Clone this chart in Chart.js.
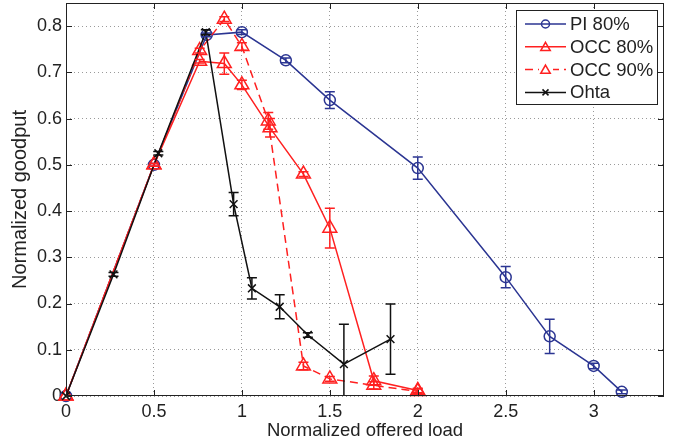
<!DOCTYPE html>
<html>
<head>
<meta charset="utf-8">
<style>
html,body{margin:0;padding:0;background:#fff;}
#wrap{width:678px;height:445px;}
</style>
<script src="https://cdn.jsdelivr.net/npm/chart.js@4.4.0/dist/chart.umd.min.js"></script>
</head>
<body>
<div id="wrap"><canvas id="c"></canvas></div>
<script>
// tick values
var xTicks = [0, 0.5, 1, 1.5, 2, 2.5, 3];
var yTicks = [0, 0.1, 0.2, 0.3, 0.4, 0.5, 0.6, 0.7, 0.8];

// PI 80%
var piX   = [0, 0.5, 0.8, 1.0, 1.25, 1.5, 2.0, 2.5, 2.75, 3.0, 3.16];
var piY   = [0, 0.5, 0.781, 0.787, 0.726, 0.64, 0.493, 0.257, 0.129, 0.065, 0.009];
var piErr = [0, 0.003, 0.004, 0.005, 0.005, 0.018, 0.024, 0.023, 0.037, 0.006, 0.004];

// OCC 80%
var occ80X   = [0, 0.5, 0.76, 0.9, 1.0, 1.16, 1.35, 1.5, 1.75, 2.0];
var occ80Y   = [0, 0.5, 0.724, 0.719, 0.673, 0.58, 0.48, 0.363, 0.033, 0.012];
var occ80Err = [0, 0.003, 0.004, 0.023, 0.01, 0.02, 0.005, 0.043, 0.01, 0.005];

// OCC 90%
var occ90X   = [0, 0.5, 0.76, 0.9, 1.0, 1.15, 1.35, 1.5, 1.75, 2.0];
var occ90Y   = [0, 0.5, 0.747, 0.815, 0.756, 0.595, 0.065, 0.037, 0.023, 0.01];
var occ90Err = [0, 0.003, 0.005, 0.005, 0.008, 0.018, 0.008, 0.005, 0.008, 0.005];

// Ohta
var ohtaX   = [0, 0.27, 0.525, 0.795, 0.953, 1.057, 1.215, 1.375, 1.58, 1.845];
var ohtaY   = [0, 0.263, 0.525, 0.787, 0.415, 0.233, 0.193, 0.132, 0.069, 0.123];
var ohtaErr = [0, 0.004, 0.004, 0.005, 0.025, 0.023, 0.026, 0.005, 0.086, 0.076];

var BLUE = '#2b3592', RED = '#ff2020', BLACK = '#111';
var FAMILY = "'Liberation Sans', Arial, sans-serif";
var FONT = {family: FAMILY, size: 18};

function pts(xs, ys){
	var out = [];
	for(var i = 0;i<xs.length;i++){
		out.push({x: xs[i], y: ys[i]});
	}
	return out;
}

function marker(ctx, style, x, y, r){
	ctx.beginPath();
	if(style == 'circle'){
		ctx.arc(x, y, r, 0, Math.PI*2);
	}else if(style == 'triangle'){
		var a = 0;
		ctx.moveTo(x + Math.sin(a)*r, y - Math.cos(a)*r);
		a += Math.PI*2/3;
		ctx.lineTo(x + Math.sin(a)*r, y - Math.cos(a)*r);
		a += Math.PI*2/3;
		ctx.lineTo(x + Math.sin(a)*r, y - Math.cos(a)*r);
		ctx.closePath();
	}else{
		ctx.moveTo(x - r, y - r); ctx.lineTo(x + r, y + r);
		ctx.moveTo(x - r, y + r); ctx.lineTo(x + r, y - r);
	}
	ctx.stroke();
}

var errs = [piErr, occ80Err, occ90Err, ohtaErr];
var legendStyle = ['circle', 'triangle', 'triangle', 'cross'];

var matlabBox = {
	id: 'matlabBox',
	afterLayout: function(chart){
		// pin the plot top (layout keeps adding its own padding)
		var a = chart.chartArea, ys = chart.scales.y;
		a.top = 3; a.height = a.bottom - a.top;
		ys.top = 3; ys.height = ys.bottom - ys.top;
		ys.configure();
	},
	afterDatasetsDraw: function(chart){
		var ctx = chart.ctx, a = chart.chartArea;
		var xs = chart.scales.x, ys = chart.scales.y;
		ctx.save();
		ctx.beginPath();
		ctx.rect(a.left, a.top, a.right - a.left, a.bottom - a.top);
		ctx.clip();
		chart.data.datasets.forEach(function(ds, i){
			ctx.strokeStyle = ds.borderColor;
			ctx.lineWidth = 1.5;
			ctx.setLineDash([]);
			ds.data.forEach(function(p, j){
				var e = errs[i][j];
				if(!e) return;
				var px = xs.getPixelForValue(p.x);
				var y1 = ys.getPixelForValue(p.y - e);
				var y2 = ys.getPixelForValue(p.y + e);
				ctx.beginPath();
				ctx.moveTo(px, y1); ctx.lineTo(px, y2);
				ctx.moveTo(px - 5, y1); ctx.lineTo(px + 5, y1);
				ctx.moveTo(px - 5, y2); ctx.lineTo(px + 5, y2);
				ctx.stroke();
			});
		});
		ctx.restore();
	},
	afterDraw: function(chart){
		var ctx = chart.ctx, a = chart.chartArea;
		var xs = chart.scales.x, ys = chart.scales.y;
		ctx.save();
		// frame
		ctx.strokeStyle = '#222';
		ctx.lineWidth = 1;
		ctx.setLineDash([]);
		ctx.strokeRect(a.left + 0.5, a.top + 0.5, a.right - a.left - 1, a.bottom - a.top - 1);
		// inward ticks
		ctx.beginPath();
		xTicks.forEach(function(v){
			var px = Math.round(xs.getPixelForValue(v)) + 0.5;
			ctx.moveTo(px, a.bottom); ctx.lineTo(px, a.bottom - 6);
			ctx.moveTo(px, a.top); ctx.lineTo(px, a.top + 6);
		});
		yTicks.forEach(function(v){
			var py = Math.round(ys.getPixelForValue(v)) + 0.5;
			ctx.moveTo(a.left, py); ctx.lineTo(a.left + 6, py);
			ctx.moveTo(a.right, py); ctx.lineTo(a.right - 6, py);
		});
		ctx.stroke();

		// legend
		var lw = 141, lh = 94;
		var lx = a.right - 7 - lw, ly = a.top + 7;
		ctx.fillStyle = '#fff';
		ctx.fillRect(lx, ly, lw, lh);
		ctx.strokeStyle = '#222';
		ctx.strokeRect(lx + 0.5, ly + 0.5, lw, lh);
		ctx.font = '18.5px ' + FAMILY;
		ctx.textBaseline = 'middle';
		ctx.textAlign = 'left';
		chart.data.datasets.forEach(function(ds, i){
			var cy = ly + 14 + i*22.8;
			ctx.strokeStyle = ds.borderColor;
			ctx.lineWidth = 1.5;
			ctx.setLineDash(ds.borderDash || []);
			ctx.beginPath();
			ctx.moveTo(lx + 9, cy); ctx.lineTo(lx + 50, cy);
			ctx.stroke();
			ctx.setLineDash([]);
			if(ds.borderDash){
				ctx.fillStyle = '#fff';
				ctx.fillRect(lx + 23, cy - 3, 14, 6);
			}
			var r = legendStyle[i] == 'circle' ? 4 : (legendStyle[i] == 'triangle' ? 5.5 : 3);
			marker(ctx, legendStyle[i], lx + 29.5, cy + (legendStyle[i] == 'triangle' ? 1 : 0), r);
			ctx.fillStyle = '#222';
			ctx.fillText(ds.label, lx + 54, cy + 1);
		});
		ctx.restore();
	}
};

var ctx = document.getElementById("c").getContext("2d");
var config = {
	type: 'line',
	data: {
		datasets: [{
			label: 'PI 80%',
			data: pts(piX, piY),
			borderColor: BLUE,
			borderWidth: 1.5,
			pointStyle: 'circle',
			pointRadius: 5.5,
			pointBorderWidth: 1.5,
			pointBackgroundColor: 'rgba(0,0,0,0)',
			order: 3
		},{
			label: 'OCC 80%',
			data: pts(occ80X, occ80Y),
			borderColor: RED,
			borderWidth: 1.5,
			pointStyle: 'triangle',
			pointRadius: 8,
			pointBorderWidth: 1.5,
			pointBackgroundColor: 'rgba(0,0,0,0)',
			order: 2
		},{
			label: 'OCC 90%',
			data: pts(occ90X, occ90Y),
			borderColor: RED,
			borderWidth: 1.5,
			borderDash: [8, 5],
			pointStyle: 'triangle',
			pointRadius: 8,
			pointBorderWidth: 1.5,
			pointBackgroundColor: 'rgba(0,0,0,0)',
			order: 1
		},{
			label: 'Ohta',
			data: pts(ohtaX, ohtaY),
			borderColor: BLACK,
			borderWidth: 1.5,
			pointStyle: 'crossRot',
			pointRadius: 5.5,
			pointBorderWidth: 1.5,
			order: 0
		}]
	},
	options: {
		responsive: true,
		maintainAspectRatio: false,
		animation: false,
		layout: {padding: {top: 3, right: 14, left: 0, bottom: 0}},
		elements: {line: {tension: 0, fill: false}},
		datasets: {line: {clip: false}},
		plugins: {legend: {display: false}, tooltip: {enabled: false}},
		scales: {
			x: {
				type: 'linear',
				min: 0,
				max: 3.4,
				afterBuildTicks: function(s){ s.ticks = xTicks.map(function(v){ return {value: v}; }); },
				afterFit: function(s){ s.height = 49; s.paddingLeft = 0; s.paddingRight = 0; },
				ticks: {callback: function(v){ return String(v); }, padding: 5, maxRotation: 0, autoSkip: false, color: '#222', font: FONT},
				grid: {color: '#9a9a9a', drawTicks: false, lineWidth: 1},
				border: {display: false, dash: [1, 3]},
				title: {display: true, text: 'Normalized offered load', color: '#222', font: {family: FAMILY, size: 18.5}, padding: {top: 0, bottom: 3}}
			},
			y: {
				type: 'linear',
				min: 0,
				max: 0.85,
				afterBuildTicks: function(s){ s.ticks = yTicks.map(function(v){ return {value: v}; }); },
				afterFit: function(s){ s.width = 66; s.paddingTop = 0; s.paddingBottom = 0; },
				ticks: {callback: function(v){ return String(v); }, padding: 4, autoSkip: false, color: '#222', font: FONT},
				grid: {color: '#9a9a9a', drawTicks: false, lineWidth: 1},
				border: {display: false, dash: [1, 3]},
				title: {display: true, text: 'Normalized goodput', color: '#222', font: {family: FAMILY, size: 20}, padding: {top: 8, bottom: 0}}
			}
		}
	},
	plugins: [matlabBox]
};
new Chart(ctx, config);
</script>
</body>
</html>
